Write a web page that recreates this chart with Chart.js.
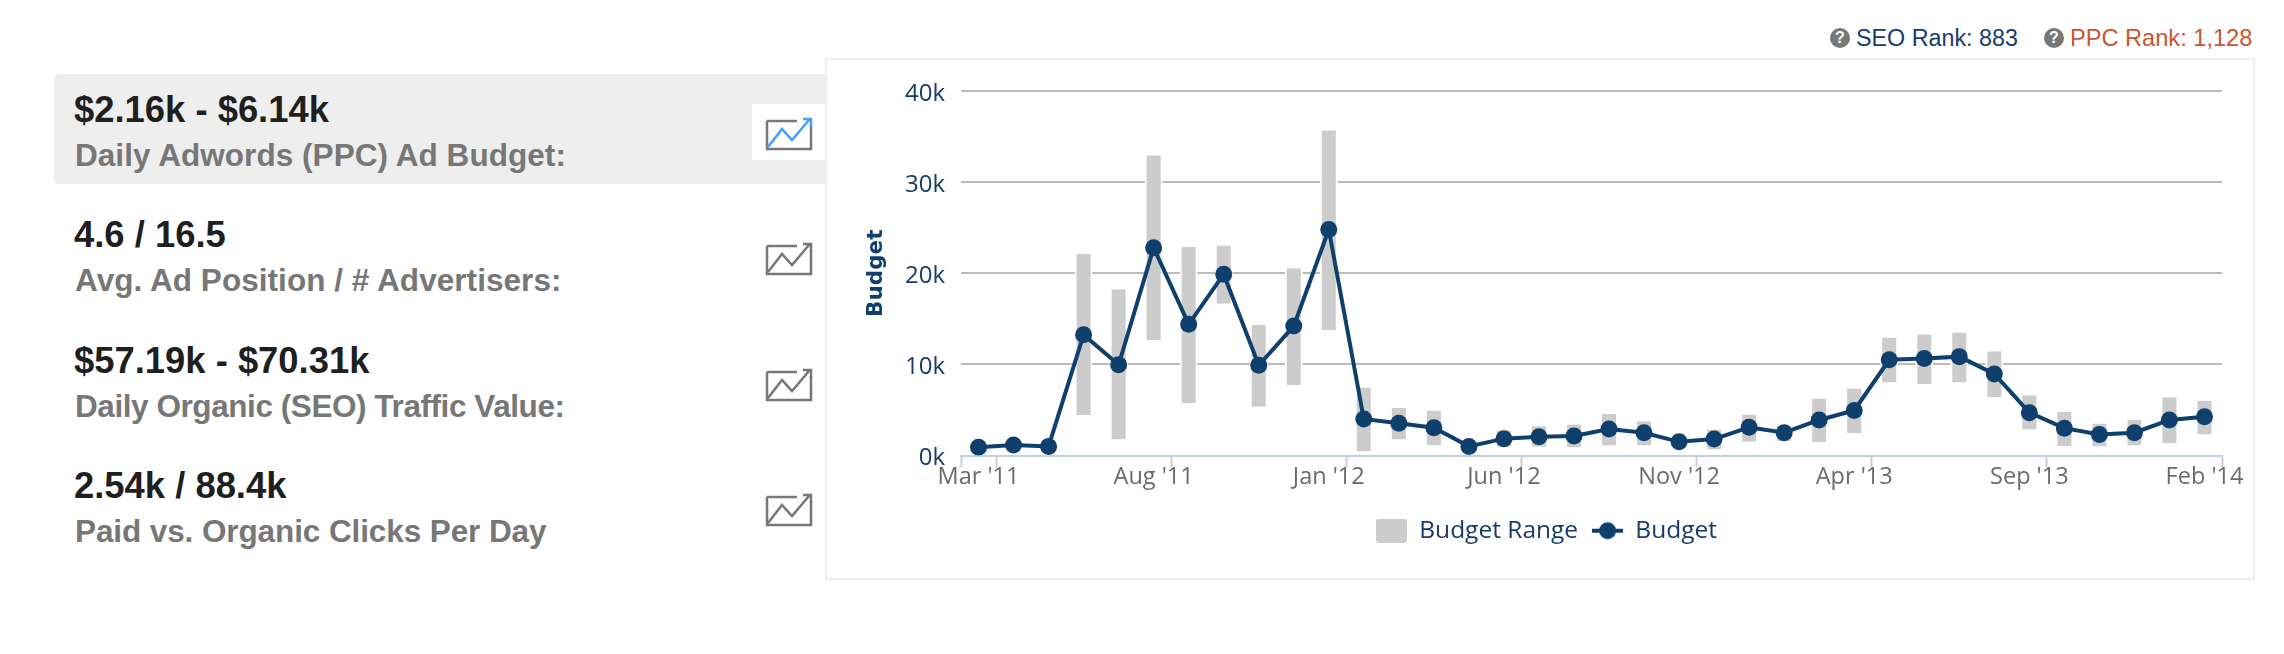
<!DOCTYPE html>
<html>
<head>
<meta charset="utf-8">
<script src="https://cdn.jsdelivr.net/npm/chart.js@4/dist/chart.umd.js"></script>
<style>
html, body { margin: 0; padding: 0; background: #fff; }
body { position: relative; width: 2284px; height: 654px; overflow: hidden; font-family: "Liberation Sans", Arial, sans-serif; }
.abs { position: absolute; white-space: nowrap; }
#highlight { left: 54px; top: 74px; width: 771px; height: 110px; background: #eee; border-radius: 5px 0 0 5px; }
#iconBack { left: 752px; top: 104px; width: 73px; height: 56px; background: #fff; }
.value { left: 74px; font-size: 36.4px; line-height: 40px; font-weight: bold; color: #1f1f1f; }
.label { left: 75px; font-size: 31.5px; line-height: 36px; font-weight: bold; color: #777; }
.icon { left: 765px; }
.rank { top: 25px; line-height: 26px; }
.help { top: 28px; width: 20px; height: 20px; border-radius: 50%; background: #777; color: #fff; font-size: 16px; line-height: 20px; font-weight: bold; text-align: center; }
#panel { left: 825px; top: 58px; width: 1426px; height: 518px; border: 2px solid #eee; }
canvas { position: absolute; left: 0; top: 0; }
</style>
</head>
<body>
<div class="abs" id="highlight"></div>
<div class="abs" id="iconBack"></div>
<div id="stats"></div>
<div class="abs help" style="left:1830px">?</div>
<div class="abs rank" id="seoRank" style="left:1856px;color:#173c6b;font-size:23.3px"></div>
<div class="abs help" style="left:2044px">?</div>
<div class="abs rank" id="ppcRank" style="left:2070px;color:#c9562b;font-size:23.6px"></div>
<div class="abs" id="panel"><canvas id="budgetChart" width="1426" height="518"></canvas></div>

<script>
const statValues = ['$2.16k - $6.14k', '4.6 / 16.5', '$57.19k - $70.31k', '2.54k / 88.4k'];
const statLabels = ['Daily Adwords (PPC) Ad Budget:', 'Avg. Ad Position / # Advertisers:', 'Daily Organic (SEO) Traffic Value:', 'Paid vs. Organic Clicks Per Day'];
const seoRank = 'SEO Rank: 883';
const ppcRank = 'PPC Rank: 1,128';

const months = ["Mar '11", "Apr '11", "May '11", "Jun '11", "Jul '11", "Aug '11", "Sep '11", "Oct '11", "Nov '11", "Dec '11", "Jan '12", "Feb '12",
    "Mar '12", "Apr '12", "May '12", "Jun '12", "Jul '12", "Aug '12", "Sep '12", "Oct '12", "Nov '12", "Dec '12", "Jan '13", "Feb '13",
    "Mar '13", "Apr '13", "May '13", "Jun '13", "Jul '13", "Aug '13", "Sep '13", "Oct '13", "Nov '13", "Dec '13", "Jan '14", "Feb '14"];
const budget = [900, 1150, 1000, 13250, 9950, 22800, 14400, 19900, 9900, 14200, 24800, 4000,
    3550, 3050, 1000, 1850, 2050, 2150, 2900, 2500, 1500, 1800, 3100, 2500,
    3900, 4950, 10500, 10650, 10850, 8950, 4700, 3000, 2300, 2500, 3900, 4250];
const budgetLow = [800, 1050, 900, 4450, 1750, 12650, 5750, 16650, 5350, 7750, 13750, 450,
    1750, 1150, 850, 950, 950, 900, 1100, 1100, 1050, 650, 1500, 1600,
    1450, 2450, 8000, 7850, 8000, 6400, 2850, 1050, 1000, 1100, 1350, 2300];
const budgetHigh = [1000, 1250, 1100, 22150, 18250, 32950, 22900, 23050, 14350, 20550, 35700, 7450,
    5250, 4950, 1250, 2750, 3200, 3400, 4550, 3750, 1850, 2850, 4500, 3300,
    6250, 7350, 12950, 13300, 13500, 11450, 6600, 4800, 3500, 3900, 6400, 6000];

const navy = '#0f3f6c';
const axisBlue = '#c0d0e0';
const rangeGrey = '#cccccc';

// reference labels run a little tighter or looser than Liberation Sans
const labelSpacing = [0.05, 0.05, -0.43, -0.1];

function addText(cls, text, top, spacing) {
    const el = document.createElement('div');
    el.className = 'abs ' + cls;
    el.textContent = text;
    el.style.top = top + 'px';
    if (spacing) el.style.letterSpacing = spacing + 'px';
    document.getElementById('stats').appendChild(el);
}

function addIcon(top, lineColor) {
    const holder = document.createElement('div');
    holder.className = 'abs icon';
    holder.style.top = top + 'px';
    holder.innerHTML = '<svg width="50" height="36" viewBox="0 0 50 36">' +
        '<path d="M2 5V33H46V9M2 5H32" fill="none" stroke="#777" stroke-width="2.5"/>' +
        '<path d="M3 31L17 13L27 24L44 4M38 3H46V11" fill="none" stroke="' + lineColor + '" stroke-width="2.5"/>' +
        '</svg>';
    document.getElementById('stats').appendChild(holder);
}

statValues.forEach((v, i) => {
    const rowTop = Math.round(i * 125.4);
    addText('value', v, 90 + rowTop);
    addText('label', statLabels[i], 137 + rowTop, labelSpacing[i]);
    addIcon(116 + rowTop, i === 0 ? '#4a9dff' : '#777');
});
document.getElementById('seoRank').textContent = seoRank;
document.getElementById('ppcRank').textContent = ppcRank;

// legend symbols
function rangeSymbol() {
    const c = document.createElement('canvas');
    c.width = 31; c.height = 24;
    const g = c.getContext('2d');
    g.fillStyle = rangeGrey;
    g.beginPath();
    g.roundRect(0, 0, 31, 24, 3);
    g.fill();
    return c;
}

function budgetSymbol() {
    const c = document.createElement('canvas');
    c.width = 31; c.height = 24;
    const g = c.getContext('2d');
    g.fillStyle = navy;
    g.fillRect(0, 10, 31, 4);
    g.beginPath();
    g.arc(15.5, 12, 8.5, 0, Math.PI * 2);
    g.fill();
    return c;
}

const tickIndexes = [0, 1, 6, 11, 16, 21, 26, 31];

const budgetChart = new Chart(document.getElementById('budgetChart').getContext('2d'), {
    data: {
        labels: months,
        datasets: [{
            type: 'bar',
            label: 'Budget Range',
            data: budgetLow.map((low, i) => [low, budgetHigh[i]]),
            backgroundColor: rangeGrey,
            borderColor: '#fff',
            borderWidth: { left: 2, right: 2, top: 0, bottom: 0 },
            borderSkipped: false,
            inflateAmount: 0,
            barThickness: 18,
            order: 2
        }, {
            type: 'line',
            label: 'Budget',
            data: budget,
            borderColor: navy,
            backgroundColor: navy,
            borderWidth: 4,
            pointRadius: 8.5,
            pointBackgroundColor: navy,
            pointBorderWidth: 0,
            tension: 0,
            order: 1
        }]
    },
    options: {
        responsive: false,
        animation: false,
        layout: { padding: { left: 14, right: 1, top: 31, bottom: 25 } },
        plugins: {
            tooltip: { enabled: false },
            legend: {
                position: 'bottom',
                labels: {
                    usePointStyle: true,
                    pointStyleWidth: 31,
                    font: { family: 'Open Sans', size: 24.5 },
                    color: '#173c6b',
                    padding: 14,
                    generateLabels: chart => chart.data.datasets.map((ds, i) => ({
                        text: ds.label,
                        datasetIndex: i,
                        fontColor: '#173c6b',
                        pointStyle: i === 0 ? rangeSymbol() : budgetSymbol(),
                        lineWidth: 0
                    }))
                }
            }
        },
        scales: {
            x: {
                offset: true,
                afterFit: scale => { scale.height = 49; },
                border: { color: axisBlue, width: 2 },
                grid: {
                    offset: true,
                    drawOnChartArea: false,
                    tickLength: 12,
                    tickWidth: 2,
                    tickColor: ctx => (ctx.index === undefined || tickIndexes.includes(ctx.index)) ? axisBlue : 'transparent'
                },
                ticks: {
                    autoSkip: false,
                    maxRotation: 0,
                    padding: -2,
                    color: '#6e6a66',
                    font: { family: 'Open Sans', size: 23.5, lineHeight: 1 },
                    callback: function (value, index) {
                        return index % 5 === 0 ? this.getLabelForValue(value) : '';
                    }
                }
            },
            y: {
                min: 0,
                max: 40000,
                afterFit: scale => { scale.width = 120; },
                title: {
                    display: true,
                    text: 'Budget',
                    color: navy,
                    font: { family: 'DejaVu Sans', size: 21.5, weight: 'bold' },
                    padding: { top: 23, bottom: 0 }
                },
                border: { display: false },
                grid: {
                    drawTicks: false,
                    lineWidth: 2,
                    color: ctx => ctx.tick.value === 0 ? 'transparent' : '#bbbbbb'
                },
                ticks: {
                    stepSize: 10000,
                    padding: 16,
                    labelOffset: 3,
                    color: '#173c6b',
                    font: { family: 'Open Sans', size: 24 },
                    callback: v => (v / 1000) + 'k'
                }
            },
            // empty axis: keeps the right margin of the plot without moving the legend
            spacer: {
                position: 'right',
                min: 0,
                max: 1,
                afterFit: scale => { scale.width = 30; },
                border: { display: false },
                grid: { display: false },
                ticks: { display: false }
            }
        }
    }
});
</script>
</body>
</html>
